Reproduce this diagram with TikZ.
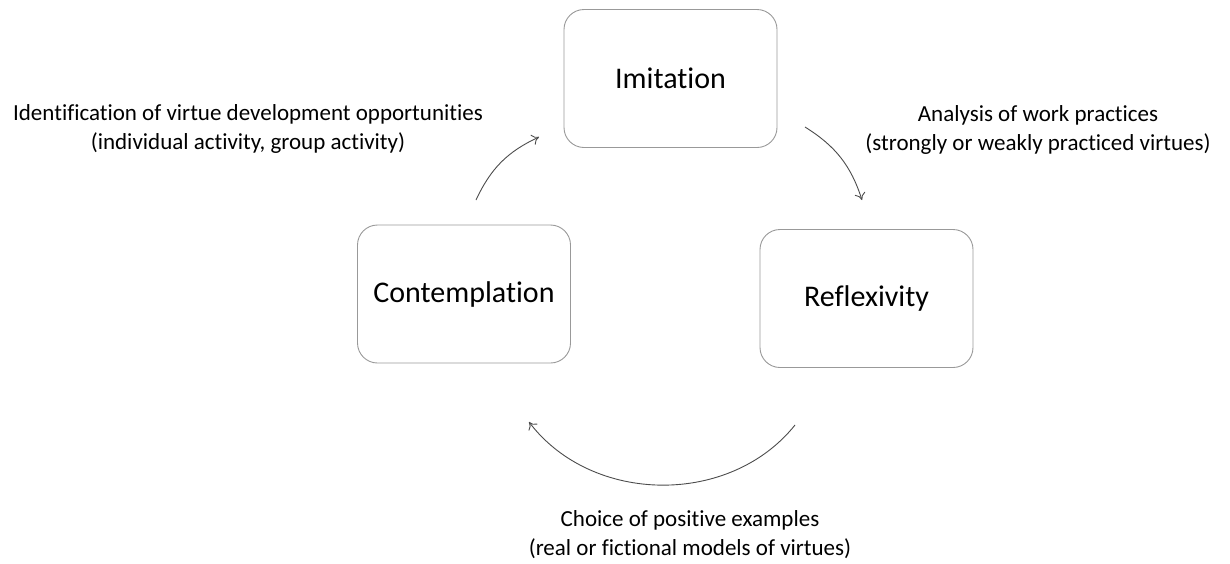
\documentclass[tikz,border=0pt]{standalone}
\usepackage{fontspec}
\setmainfont{Carlito}[Ligatures=NoCommon]
\usetikzlibrary{arrows.meta}
\begin{document}
\begin{tikzpicture}[x=1pt,y=-1pt,
    stage/.style={draw=black!40,line width=0.9pt,rounded corners=20pt,
      minimum width=213pt,minimum height=138pt,font=\fontsize{30}{36}\selectfont},
    note/.style={align=center,font=\fontsize{23}{29}\selectfont},
    cyc/.style={draw=black!70,line width=0.9pt,-{To[length=7pt,width=11pt]}}]
  \useasboundingbox (0,0) rectangle (1230,563);
  \draw
    (670.5,78.5) node[stage] (imit){Imitation}
    (464,294) node[stage] (cont){Contemplation}
    (866.5,298.5) node[stage] (refl){Reflexivity};
  \draw
    (248,129) node[note] (n1){Identification of virtue development opportunities\\(individual activity, group activity)}
    (1038,130) node[note] (n2){Analysis of work practices\\(strongly or weakly practiced virtues)}
    (690,535) node[note] (n3){Choice of positive examples\\(real or fictional models of virtues)};
  \coordinate (c1) at (476,200);
  \coordinate (i1) at (539,137);
  \coordinate (i2) at (805,127);
  \coordinate (r1) at (862,200);
  \coordinate (r2) at (795,425);
  \coordinate (c2) at (529,422);
  \begin{scope}[cyc]
    \draw (c1) to[bend left=20] (i1);
    \draw (i2) to[bend left=20] (r1);
    \draw (r2) to[bend left=52] (c2);
  \end{scope}
\end{tikzpicture}
\end{document}
